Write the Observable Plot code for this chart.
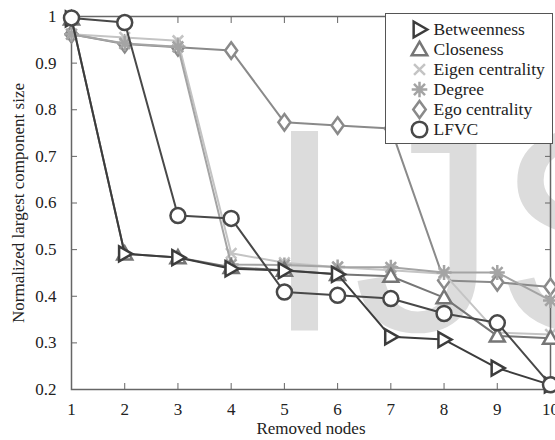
<!DOCTYPE html>
<html><head><meta charset="utf-8">
<script src="https://cdn.jsdelivr.net/npm/d3@7"></script>
<script src="https://cdn.jsdelivr.net/npm/@observablehq/plot@0.6"></script>
<style>
html,body{margin:0;padding:0;background:#fff;}
#wrap{position:relative;width:555px;height:440px;overflow:hidden;}
#legend{position:absolute;left:385px;top:13px;}
#legend svg{border:1.5px solid #555;background:#fff;display:block;}
</style></head><body><div id="wrap"><div id="chart"></div><div id="legend"></div></div>
<script>
const removedNodes = [1, 2, 3, 4, 5, 6, 7, 8, 9, 10];
const betweenness = [0.995, 0.491, 0.483, 0.459, 0.455, 0.447, 0.313, 0.307, 0.246, 0.21];
const closeness = [0.995, 0.491, 0.483, 0.462, 0.456, 0.447, 0.443, 0.397, 0.315, 0.31];
const eigenCentrality = [0.962, 0.955, 0.948, 0.492, 0.472, 0.462, 0.456, 0.448, 0.322, 0.318];
const degree = [0.962, 0.942, 0.935, 0.468, 0.467, 0.463, 0.462, 0.451, 0.451, 0.391];
const egoCentrality = [0.962, 0.941, 0.934, 0.927, 0.773, 0.766, 0.760, 0.434, 0.43, 0.42];
const lfvc = [0.997, 0.987, 0.573, 0.567, 0.409, 0.402, 0.395, 0.363, 0.343, 0.21];
const seriesNames = ["Betweenness", "Closeness", "Eigen centrality", "Degree", "Ego centrality", "LFVC"];
const seriesColors = ["#3c3c3c", "#767676", "#c4c4c4", "#a4a4a4", "#8a8a8a", "#484848"];
const xTicks = [1, 2, 3, 4, 5, 6, 7, 8, 9, 10];
const yTicks = [0.2, 0.3, 0.4, 0.5, 0.6, 0.7, 0.8, 0.9, 1];
const watermarkLetters = ["I", "J", "S"];
const watermarkOffsets = [233, 354, 520];

const rad = s => Math.sqrt(s / Math.PI);
const triRight = {draw(c, s) {const r = rad(s); c.moveTo(r, 0); c.lineTo(-0.75 * r, -r); c.lineTo(-0.75 * r, r); c.closePath();}};
const triUp = {draw(c, s) {const r = rad(s); c.moveTo(0, -r); c.lineTo(r, 0.75 * r); c.lineTo(-r, 0.75 * r); c.closePath();}};
const cross = {draw(c, s) {const r = rad(s) * 0.7; c.moveTo(-r, -r); c.lineTo(r, r); c.moveTo(r, -r); c.lineTo(-r, r);}};
const star8 = {draw(c, s) {const r = rad(s); for (let i = 0; i < 4; i++) {const a = i * Math.PI / 4; c.moveTo(r * Math.cos(a), r * Math.sin(a)); c.lineTo(-r * Math.cos(a), -r * Math.sin(a));}}};
const diamond = {draw(c, s) {const r = rad(s); c.moveTo(0, -1.1 * r); c.lineTo(0.8 * r, 0); c.lineTo(0, 1.1 * r); c.lineTo(-0.8 * r, 0); c.closePath();}};
const seriesSymbols = [triRight, triUp, cross, star8, diamond, "circle"];
const seriesValues = [betweenness, closeness, eigenCentrality, degree, egoCentrality, lfvc];

const series = seriesNames.map((name, i) => ({
  name, color: seriesColors[i], symbol: seriesSymbols[i],
  data: removedNodes.map((x, j) => ({x, y: seriesValues[i][j]}))
}));
const drawOrder = [4, 2, 3, 1, 0, 5];

const marks = [
  ...watermarkLetters.map((L, i) => Plot.text([L], {text: d => d, frameAnchor: "top-left", dx: watermarkOffsets[i], dy: 314,
    lineAnchor: "bottom", textAnchor: "middle", fontSize: 290, fontFamily: "'Liberation Sans', Arial, sans-serif", fill: "#dcdcdc"})),
  Plot.frame({stroke: "#666", strokeWidth: 1.5}),
  Plot.axisX({anchor: "bottom", ticks: xTicks, tickSize: -6, tickPadding: 19, tickFormat: d => String(d),
    label: "Removed nodes", labelAnchor: "center", labelArrow: "none", labelOffset: 44, stroke: "#666", fill: "#222"}),
  Plot.axisX({anchor: "top", ticks: xTicks, tickSize: -6, tickFormat: () => "", label: null, stroke: "#666"}),
  Plot.axisY({anchor: "left", ticks: yTicks, tickSize: -6, tickPadding: 21, tickFormat: d => d === 1 ? "1" : d.toFixed(1),
    label: "Normalized largest component size", labelAnchor: "center", labelArrow: "none", labelOffset: 60, stroke: "#666", fill: "#222"}),
  Plot.axisY({anchor: "right", ticks: yTicks, tickSize: -6, tickFormat: () => "", label: null, stroke: "#666"})
];
for (const i of drawOrder) {
  const s = series[i];
  marks.push(Plot.line(s.data, {x: "x", y: "y", stroke: s.color, strokeWidth: 2}));
  marks.push(Plot.dot(s.data, {x: "x", y: "y", symbol: s.symbol, r: 7.5, stroke: s.color, strokeWidth: 2.5,
    fill: (s.symbol === cross || s.symbol === star8) ? "none" : "white"}));
}

const chart = Plot.plot({
  width: 555, height: 440, marginLeft: 71, marginRight: 5, marginTop: 16, marginBottom: 51,
  style: {fontFamily: "'Liberation Serif', 'Times New Roman', serif", fontSize: "17px", background: "transparent", color: "#222", overflow: "visible"},
  x: {domain: [1, 10], label: null},
  y: {domain: [0.2, 1], label: null},
  marks
});
document.getElementById("chart").appendChild(chart);

const legend = Plot.plot({
  width: 166, height: 129, marginLeft: 0, marginRight: 0, marginTop: 13, marginBottom: 13,
  style: {fontFamily: "'Liberation Serif', 'Times New Roman', serif", fontSize: "17.5px", background: "#fff", color: "#222"},
  x: {axis: null, domain: [0, 1]},
  y: {type: "point", domain: seriesNames, axis: null, padding: 0},
  marks: [
    ...series.map(s => Plot.dot([s.name], {y: d => d, frameAnchor: "left", dx: 33, symbol: s.symbol, r: 7.8,
      stroke: s.color, strokeWidth: 2.5, fill: "none"})),
    Plot.text(seriesNames, {y: d => d, text: d => d, frameAnchor: "left", dx: 47, textAnchor: "start", fill: "#222", fontSize: 17.5})
  ]
});
document.getElementById("legend").appendChild(legend);
</script></body></html>
